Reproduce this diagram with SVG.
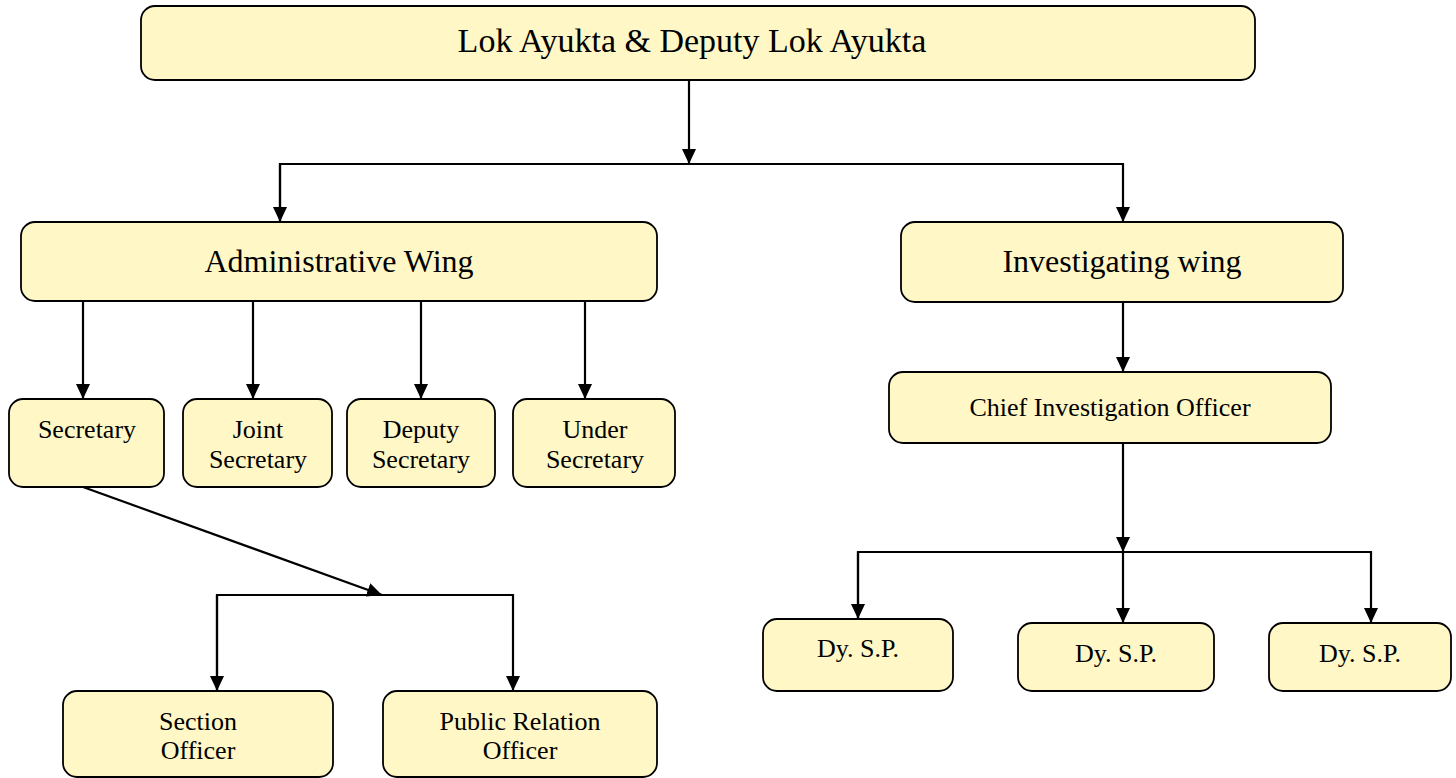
<svg xmlns="http://www.w3.org/2000/svg" width="1456" height="778" viewBox="0 0 1456 778">
<style>
.box{fill:#fff7c6;stroke:#000;stroke-width:1.8}
.t{font-family:"Liberation Serif","Times New Roman",serif;fill:#000;text-anchor:middle}
.big{font-size:34px}
.mid{font-size:32px}
.sm{font-size:26px}
.c{fill:none;stroke:#000;stroke-width:2.2}
</style>
<defs>
<marker id="ah" markerUnits="userSpaceOnUse" markerWidth="16" markerHeight="14" refX="15" refY="7" orient="auto">
<path d="M0,0 L15,7 L0,14 z" fill="#000"/>
</marker>
</defs>
<rect width="1456" height="778" fill="#fff"/>
<g id="connectors">
<line class="c" x1="689" y1="80" x2="689" y2="164" marker-end="url(#ah)"/>
<polyline class="c" points="280,222 280,164 1123,164 1123,222" marker-end="url(#ah)"/>
<line class="c" x1="280" y1="164" x2="280" y2="222" marker-end="url(#ah)"/>
<line class="c" x1="83" y1="301" x2="83" y2="399" marker-end="url(#ah)"/>
<line class="c" x1="253" y1="301" x2="253" y2="399" marker-end="url(#ah)"/>
<line class="c" x1="421" y1="301" x2="421" y2="399" marker-end="url(#ah)"/>
<line class="c" x1="585" y1="301" x2="585" y2="399" marker-end="url(#ah)"/>
<line class="c" x1="83" y1="487" x2="382" y2="595" marker-end="url(#ah)"/>
<polyline class="c" points="217,691 217,595 513,595 513,691" marker-end="url(#ah)"/>
<line class="c" x1="217" y1="595" x2="217" y2="691" marker-end="url(#ah)"/>
<line class="c" x1="1123" y1="302" x2="1123" y2="372" marker-end="url(#ah)"/>
<line class="c" x1="1123" y1="443" x2="1123" y2="552" marker-end="url(#ah)"/>
<polyline class="c" points="858,619 858,552 1371,552 1371,623" marker-end="url(#ah)"/>
<line class="c" x1="858" y1="552" x2="858" y2="619" marker-end="url(#ah)"/>
<line class="c" x1="1123" y1="552" x2="1123" y2="623" marker-end="url(#ah)"/>
</g>
<g id="n-lok"><rect class="box" x="141" y="6" width="1114" height="74" rx="14"/><text class="t big" x="692" y="52">Lok Ayukta &amp; Deputy Lok Ayukta</text></g>
<g id="n-admin"><rect class="box" x="21" y="222" width="636" height="79" rx="14"/><text class="t mid" x="339" y="272">Administrative Wing</text></g>
<g id="n-inv"><rect class="box" x="901" y="222" width="442" height="80" rx="14"/><text class="t mid" x="1122" y="272">Investigating wing</text></g>
<g id="n-sec"><rect class="box" x="9" y="399" width="155" height="88" rx="14"/><text class="t sm" x="87" y="438">Secretary</text></g>
<g id="n-joint"><rect class="box" x="183" y="399" width="149" height="88" rx="14"/><text class="t sm" x="258" y="438">Joint</text><text class="t sm" x="258" y="468">Secretary</text></g>
<g id="n-deputy"><rect class="box" x="347" y="399" width="148" height="88" rx="14"/><text class="t sm" x="421" y="438">Deputy</text><text class="t sm" x="421" y="468">Secretary</text></g>
<g id="n-under"><rect class="box" x="513" y="399" width="162" height="88" rx="14"/><text class="t sm" x="595" y="438">Under</text><text class="t sm" x="595" y="468">Secretary</text></g>
<g id="n-section"><rect class="box" x="63" y="691" width="270" height="86" rx="14"/><text class="t sm" x="198" y="730">Section</text><text class="t sm" x="198" y="759">Officer</text></g>
<g id="n-pro"><rect class="box" x="383" y="691" width="274" height="86" rx="14"/><text class="t sm" x="520" y="730">Public Relation</text><text class="t sm" x="520" y="759">Officer</text></g>
<g id="n-chief"><rect class="box" x="889" y="372" width="442" height="71" rx="14"/><text class="t sm" x="1110" y="416">Chief Investigation Officer</text></g>
<g id="n-dy1"><rect class="box" x="763" y="619" width="190" height="72" rx="14"/><text class="t sm" x="858" y="657">Dy. S.P.</text></g>
<g id="n-dy2"><rect class="box" x="1018" y="623" width="196" height="68" rx="14"/><text class="t sm" x="1116" y="662">Dy. S.P.</text></g>
<g id="n-dy3"><rect class="box" x="1269" y="623" width="182" height="68" rx="14"/><text class="t sm" x="1360" y="662">Dy. S.P.</text></g>
</svg>
